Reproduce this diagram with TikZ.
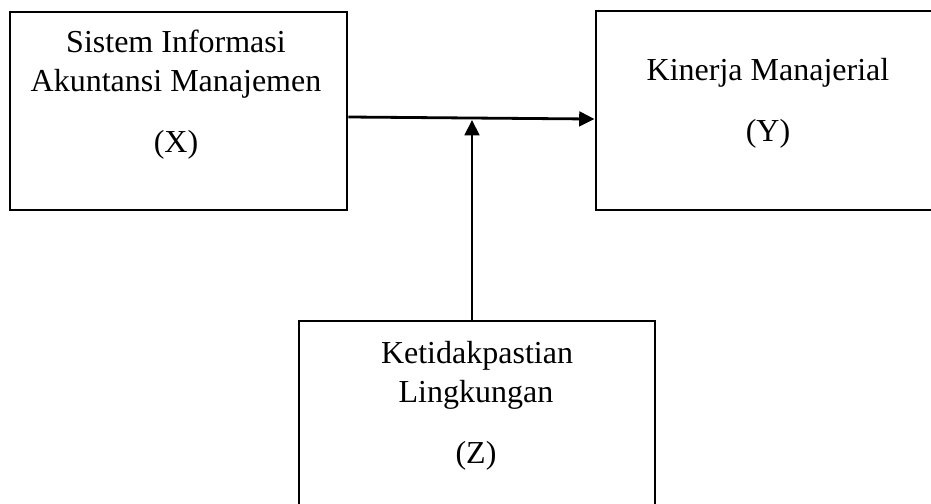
\documentclass[tikz,border=0pt]{standalone}
\usepackage{fontspec}
\setmainfont{Liberation Serif}
\usetikzlibrary{arrows.meta}

\begin{document}
\begin{tikzpicture}[
    x = 0.75pt, y = -0.75pt,
    box/.style = {shape = rectangle, draw = black, line width = 2.2pt, inner sep = 0pt},
    lbl/.style = {anchor = base, inner sep = 0pt, font = \fontsize{24}{29}\selectfont},
    arr/.style = {line width = 2.1pt, -{Triangle[length = 11.5pt, width = 11pt]}},
    ]
    \clip (0, 0) rectangle (931, 503);
    
    \node[box, minimum width = 252.75pt, minimum height = 148.5pt] (X) at (178.5, 111) {};
    \node[lbl] (X1) at (176, 53) {Sistem Informasi};
    \node[lbl] (X2) at (176, 92) {Akuntansi Manajemen};
    \node[lbl] (X3) at (176, 152) {(X)};
    
    \node[box, minimum width = 258pt, minimum height = 149.25pt] (Y) at (768, 110.5) {};
    \node[lbl] (Y1) at (768, 80) {Kinerja Manajerial};
    \node[lbl] (Y2) at (768, 141) {(Y)};
    
    \node[box, minimum width = 267pt, minimum height = 164.25pt] (Z) at (477, 430.5) {};
    \node[lbl] (Z1) at (477, 363) {Ketidakpastian};
    \node[lbl] (Z2) at (476, 402) {Lingkungan};
    \node[lbl] (Z3) at (476, 463) {(Z)};
    
    \coordinate (M) at (472, 120);
    
    \draw[arr] ([yshift = -4.5pt]X.east) -- ([yshift = -6.4pt]Y.west);
    \draw[arr] (M |- Z.north) -- (M);
\end{tikzpicture}
\end{document}
